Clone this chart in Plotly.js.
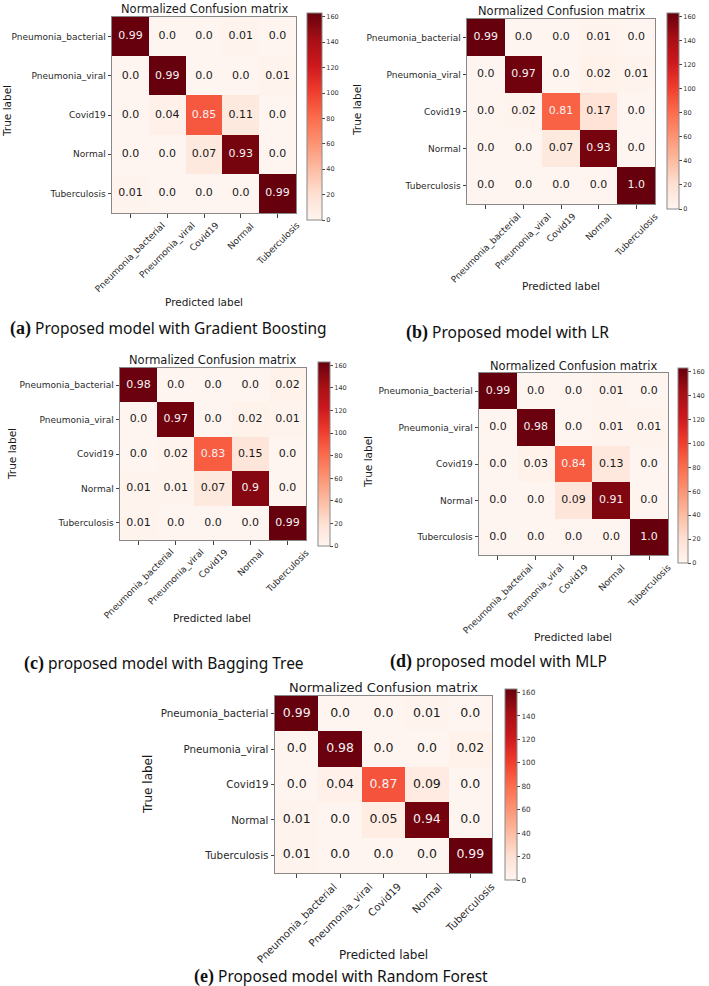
<!DOCTYPE html>
<html>
<head>
<meta charset="utf-8">
<script src="https://cdn.plot.ly/plotly-3.0.1.min.js"></script>
<style>html,body{margin:0;padding:0;background:#fff;}#chart{width:709px;height:986px;}</style>
</head>
<body>
<div id="chart"></div>
<script>
// ---- data ----
const categories = ['Pneumonia_bacterial', 'Pneumonia_viral', 'Covid19', 'Normal', 'Tuberculosis'];
// estimated number of test samples per true class (drives the cell colour, as the colour bar shows counts)
const classSupport = [165, 165, 105, 170, 165];
const colorTicks = [0, 20, 40, 60, 80, 100, 120, 140, 160];

const gradientBoosting = [
  [0.99, 0.0, 0.0, 0.01, 0.0],
  [0.0, 0.99, 0.0, 0.0, 0.01],
  [0.0, 0.04, 0.85, 0.11, 0.0],
  [0.0, 0.0, 0.07, 0.93, 0.0],
  [0.01, 0.0, 0.0, 0.0, 0.99]
];
const logisticRegression = [
  [0.99, 0.0, 0.0, 0.01, 0.0],
  [0.0, 0.97, 0.0, 0.02, 0.01],
  [0.0, 0.02, 0.81, 0.17, 0.0],
  [0.0, 0.0, 0.07, 0.93, 0.0],
  [0.0, 0.0, 0.0, 0.0, 1.0]
];
const baggingTree = [
  [0.98, 0.0, 0.0, 0.0, 0.02],
  [0.0, 0.97, 0.0, 0.02, 0.01],
  [0.0, 0.02, 0.83, 0.15, 0.0],
  [0.01, 0.01, 0.07, 0.9, 0.0],
  [0.01, 0.0, 0.0, 0.0, 0.99]
];
const mlp = [
  [0.99, 0.0, 0.0, 0.01, 0.0],
  [0.0, 0.98, 0.0, 0.01, 0.01],
  [0.0, 0.03, 0.84, 0.13, 0.0],
  [0.0, 0.0, 0.09, 0.91, 0.0],
  [0.0, 0.0, 0.0, 0.0, 1.0]
];
const randomForest = [
  [0.99, 0.0, 0.0, 0.01, 0.0],
  [0.0, 0.98, 0.0, 0.0, 0.02],
  [0.0, 0.04, 0.87, 0.09, 0.0],
  [0.01, 0.0, 0.05, 0.94, 0.0],
  [0.01, 0.0, 0.0, 0.0, 0.99]
];
const captionLetters = ['(a)', '(b)', '(c)', '(d)', '(e)'];
const captionTexts = [
  'Proposed model with Gradient Boosting',
  'Proposed model with LR',
  'proposed model with Bagging Tree',
  'proposed model with MLP',
  'Proposed model with Random Forest'
];
const matrices = [gradientBoosting, logisticRegression, baggingTree, mlp, randomForest];

// ---- layout (pixel boxes) ----
const W = 709, H = 986;
const panels = [
  {plot:[112,296,17,213], cb:[307,322,13,220], title:[204,9], xl:[204,302], yl:[7,111], cap:[8,328], tick:9, cell:11, ttl:11.5, lab:10.5, cbf:6.5},
  {plot:[467,655,19,204], cb:[667,679,13,209], title:[561,11], xl:[561,286], yl:[357,110], cap:[404,332], tick:9, cell:11, ttl:11.5, lab:10.5, cbf:6.5},
  {plot:[120,306,368,540], cb:[318,330,362,546], title:[213,360], xl:[212,618], yl:[12,454], cap:[22,663], tick:9, cell:11, ttl:11.5, lab:10.5, cbf:6.5},
  {plot:[479,668,373,555], cb:[678,688,368,563], title:[573,366], xl:[573,637], yl:[368,462], cap:[388,661], tick:9, cell:11, ttl:11.5, lab:10.5, cbf:6.5},
  {plot:[275,492,696,873], cb:[505,517,689,880], title:[383,687], xl:[383,955], yl:[148,785], cap:[192,976], tick:10.3, cell:12.5, ttl:13, lab:12, cbf:7.3}
];

const reds = [
  [0.0, '#fff5f0'], [0.125, '#fee0d2'], [0.25, '#fcbba1'], [0.375, '#fc9272'],
  [0.5, '#fb6a4a'], [0.625, '#ef3b2c'], [0.75, '#cb181d'], [0.875, '#a50f15'], [1.0, '#67000d']
];
const zmax = 163;
const fmt = v => Number.isInteger(v) ? v.toFixed(1) : String(v);
const px = x => x / W;
const py = y => 1 - y / H;

const data = [];
const layout = {
  width: W, height: H,
  margin: {l: 0, r: 0, t: 0, b: 0},
  paper_bgcolor: '#fff', plot_bgcolor: '#fff',
  showlegend: false,
  font: {family: 'DejaVu Sans', color: '#1a1a1a'},
  annotations: []
};

panels.forEach((p, i) => {
  const sfx = i === 0 ? '' : String(i + 1);
  const xa = 'x' + sfx, ya = 'y' + sfx;
  const M = matrices[i];
  const counts = M.map((row, r) => row.map(v => v * classSupport[r]));
  data.push({
    type: 'heatmap', x: categories, y: categories, z: counts,
    xaxis: xa, yaxis: ya, colorscale: reds, zmin: 0, zmax: zmax,
    hoverinfo: 'skip', xgap: 0, ygap: 0,
    colorbar: {
      x: px(p.cb[0]), xanchor: 'left', xpad: 0,
      y: py(p.cb[2]), yanchor: 'top', ypad: 0,
      len: p.cb[3] - p.cb[2], lenmode: 'pixels',
      thickness: p.cb[1] - p.cb[0], thicknessmode: 'pixels',
      outlinewidth: 1, outlinecolor: '#888',
      tickvals: colorTicks, ticks: 'outside', ticklen: 3, tickcolor: '#444',
      tickfont: {size: p.cbf, color: '#333', family: 'DejaVu Sans'}
    }
  });
  const tx = [], ty = [], tt = [], tc = [];
  M.forEach((row, r) => row.forEach((v, c) => {
    tx.push(categories[c]); ty.push(categories[r]); tt.push(fmt(v));
    tc.push(counts[r][c] > zmax / 2 ? '#f2f2f2' : '#1a1a1a');
  }));
  data.push({
    type: 'scatter', mode: 'text', x: tx, y: ty, text: tt,
    xaxis: xa, yaxis: ya, hoverinfo: 'skip', cliponaxis: false,
    textfont: {family: 'DejaVu Sans', size: p.cell, color: tc}
  });
  const axCommon = {
    type: 'category', showgrid: false, zeroline: false,
    showline: true, mirror: true, linecolor: '#888', linewidth: 1,
    ticks: 'outside', ticklen: 3.5, tickcolor: '#444',
    tickfont: {family: 'DejaVu Sans', size: p.tick, color: '#2a2a2a'},
    fixedrange: true
  };
  layout['xaxis' + sfx] = Object.assign({}, axCommon, {
    domain: [px(p.plot[0]), px(p.plot[1])], anchor: ya,
    range: [-0.5, 4.5], showticklabels: false
  });
  layout['yaxis' + sfx] = Object.assign({}, axCommon, {
    domain: [py(p.plot[3]), py(p.plot[2])], anchor: xa,
    range: [4.5, -0.5]
  });
  // x tick labels rotated 45 degrees and centred on their ticks (matplotlib style)
  categories.forEach(cat => {
    layout.annotations.push({
      text: cat, xref: xa, yref: 'paper', x: cat, y: py(p.plot[3] + 6),
      xanchor: 'center', yanchor: 'top', textangle: -45, showarrow: false,
      borderpad: 0, font: {family: 'DejaVu Sans', size: p.tick, color: '#2a2a2a'}
    });
  });
  layout.annotations.push(
    {text: 'Normalized Confusion matrix', xref: 'paper', yref: 'paper', x: px(p.title[0]), y: py(p.title[1]),
     xanchor: 'center', yanchor: 'middle', showarrow: false, font: {size: p.ttl, color: '#1a1a1a'}},
    {text: 'Predicted label', xref: 'paper', yref: 'paper', x: px(p.xl[0]), y: py(p.xl[1]),
     xanchor: 'center', yanchor: 'middle', showarrow: false, font: {size: p.lab, color: '#1a1a1a'}},
    {text: 'True label', xref: 'paper', yref: 'paper', x: px(p.yl[0]), y: py(p.yl[1]), textangle: -90,
     xanchor: 'center', yanchor: 'middle', showarrow: false, font: {size: p.lab, color: '#1a1a1a'}},
    {text: '<span style="font-family:Liberation Serif;font-weight:bold;font-size:18px">' + captionLetters[i] + '</span> ' + captionTexts[i],
     xref: 'paper', yref: 'paper', x: px(p.cap[0]), y: py(p.cap[1]),
     xanchor: 'left', yanchor: 'middle', showarrow: false,
     font: {family: 'Noto Sans', size: 15.5, color: '#111'}}
  );
});

Plotly.newPlot('chart', data, layout, {staticPlot: true, displayModeBar: false});
</script>
</body>
</html>
